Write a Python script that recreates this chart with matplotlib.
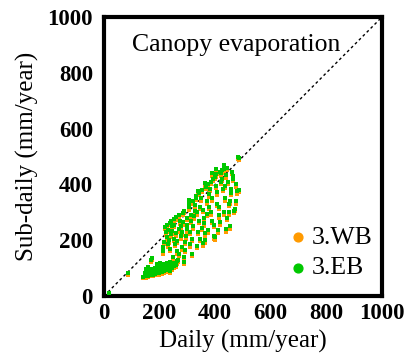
import matplotlib
matplotlib.use("Agg")
import matplotlib.pyplot as plt

plt.rcParams['font.family'] = ['Liberation Serif', 'DejaVu Serif']

# Isolated points near the origin / diagonal
extra_daily = [17, 85]
extra_eb = [11, 82]
extra_wb = [8, 77]

# Low cluster
cluster_daily = [142, 146, 148, 151, 153, 155, 157, 159, 161, 163,
                 164, 166, 168, 170, 171, 173, 175, 176, 178, 180,
                 182, 183, 185, 187, 189, 191, 193, 195, 197, 199,
                 201, 203, 205, 207, 209, 211, 213, 215, 217, 219,
                 221, 223, 226, 228, 230, 233, 236, 238, 241, 244,
                 247, 250, 254, 258, 262,
                 168, 174, 160, 152, 190, 200, 288, 239]
cluster_eb = [68, 74, 82, 70, 78, 86, 73, 81, 90, 76,
              84, 93, 79, 88, 97, 82, 91, 76, 86, 95,
              102, 80, 89, 98, 84, 93, 104, 87, 96, 82,
              108, 91, 100, 86, 112, 95, 104, 90, 115, 99,
              108, 93, 118, 102, 110, 96, 121, 105, 113, 99,
              117, 107, 120, 111, 124,
              128, 136, 104, 95, 116, 120, 122, 88]
cluster_wb = [63, 68, 76, 65, 72, 80, 67, 75, 84, 70,
              78, 86, 73, 82, 90, 76, 85, 70, 80, 88,
              95, 74, 83, 91, 78, 86, 97, 80, 89, 76,
              100, 85, 93, 80, 104, 88, 97, 84, 107, 92,
              100, 87, 110, 95, 102, 89, 113, 97, 105, 92,
              109, 99, 112, 103, 116,
              121, 129, 97, 89, 109, 112, 116, 82]

# Main band
band_daily = [211, 217, 214, 222, 220, 228, 225, 231, 229, 236,
              233, 240, 238, 244, 241, 249, 245, 252, 250, 257,
              253, 262, 258, 265, 260, 268, 264, 272, 268, 276,
              271, 280, 276, 284, 280, 289, 284, 292, 288, 297,
              292, 300, 296, 305, 300, 309, 304, 313, 308, 318,
              312, 321, 316, 326, 320, 330, 324, 334, 328, 338,
              332, 342, 336, 347, 340, 351, 344, 355, 349, 359,
              353, 363, 357, 367, 361, 372, 365, 375, 369, 379,
              373, 384, 377, 388, 381, 392, 385, 396, 389, 400,
              394, 404, 398, 408, 402, 412, 406, 416, 410, 420,
              414, 424, 418, 428, 422, 432, 426, 436, 430, 440,
              434, 444, 438, 448, 442, 452, 446, 456, 450, 460,
              455, 463, 458, 468, 465, 474, 470, 478, 476, 482,
              487, 484, 389, 402, 365, 338, 307, 430]
band_eb = [175, 195, 160, 228, 248, 255, 210, 185, 238, 262,
           200, 222, 170, 250, 268, 140, 232, 205, 275, 188,
           255, 160, 225, 130, 282, 240, 198, 268, 150, 215,
           290, 175, 250, 298, 228, 140, 265, 195, 305, 240,
           165, 280, 215, 318, 255, 185, 330, 290, 230, 150,
           270, 340, 205, 305, 250, 352, 285, 180, 325, 230,
           360, 270, 300, 205, 370, 245, 320, 190, 350, 280,
           380, 225, 310, 392, 260, 340, 200, 400, 295, 365,
           235, 410, 320, 270, 385, 420, 300, 215, 350, 428,
           255, 395, 210, 330, 436, 290, 372, 445, 235, 410,
           320, 450, 265, 385, 440, 300, 420, 350, 455, 240,
           395, 280, 432, 330, 460, 250, 410, 370, 300, 445,
           340, 420, 385, 305, 430, 340, 312, 375, 400, 500,
           496, 380, 440, 455, 405, 375, 345, 468]
band_wb = [167, 186, 152, 219, 240, 246, 201, 177, 229, 253,
           191, 213, 162, 241, 259, 132, 223, 196, 266, 179,
           246, 152, 216, 122, 273, 231, 189, 259, 142, 206,
           281, 166, 241, 289, 219, 132, 256, 186, 296, 231,
           156, 271, 206, 309, 246, 176, 321, 281, 221, 142,
           261, 331, 196, 296, 241, 343, 276, 171, 316, 221,
           351, 261, 291, 196, 361, 236, 311, 181, 341, 271,
           371, 216, 301, 383, 251, 331, 191, 391, 286, 356,
           226, 401, 311, 261, 376, 411, 291, 206, 341, 419,
           246, 386, 201, 321, 427, 281, 363, 436, 226, 401,
           311, 441, 256, 376, 431, 291, 411, 341, 446, 231,
           386, 271, 423, 321, 451, 241, 401, 361, 291, 436,
           331, 411, 376, 296, 421, 331, 303, 366, 391, 492,
           487, 371, 431, 446, 396, 366, 336, 459]

ticks = [0, 200, 400, 600, 800, 1000]
orange = '#FF9A00'
green = '#00C800'

daily = extra_daily + cluster_daily + band_daily
sub_eb = extra_eb + cluster_eb + band_eb
sub_wb = extra_wb + cluster_wb + band_wb

fig = plt.figure(figsize=(4.08, 3.56), dpi=100)
ax = fig.add_axes([104 / 408, 60 / 356, 278 / 408, 279 / 356])

ax.plot([0, 1000], [0, 1000], color='black', linestyle=(0, (2, 2)), linewidth=1.0, zorder=1)
ax.scatter(daily, sub_wb, s=5, color=orange, marker='s', linewidths=0, zorder=2)
ax.scatter(daily, sub_eb, s=5, color=green, marker='s', linewidths=0, zorder=3)

ax.set_xlim(0, 1000)
ax.set_ylim(0, 1000)
ax.set_xticks(ticks)
ax.set_yticks(ticks)
ax.set_xticklabels([str(t) for t in ticks], fontsize=16.5, fontweight='bold')
ax.set_yticklabels([str(t) for t in ticks], fontsize=16.5, fontweight='bold')
ax.tick_params(axis='x', length=0, pad=5)
ax.tick_params(axis='y', length=0, pad=8)
for sp in ax.spines.values():
    sp.set_linewidth(3.0)

ax.set_xlabel('Daily (mm/year)', fontsize=18, labelpad=4)
ax.set_ylabel('Sub-daily (mm/year)', fontsize=18, labelpad=6)

ax.text(0.477, 0.90, 'Canopy evaporation', transform=ax.transAxes, ha='center', va='center',
        fontsize=18.5)

h1 = ax.scatter([], [], s=40, color=orange, label='3.WB')
h2 = ax.scatter([], [], s=40, color=green, label='3.EB')
ax.legend(handles=[h1, h2], loc='upper left', frameon=False, fontsize=18.5,
          handlelength=0.8, handletextpad=0.15, borderpad=0, borderaxespad=0,
          labelspacing=0.3, bbox_to_anchor=(0.660, 0.252))

fig.savefig('out.png', dpi=100)
